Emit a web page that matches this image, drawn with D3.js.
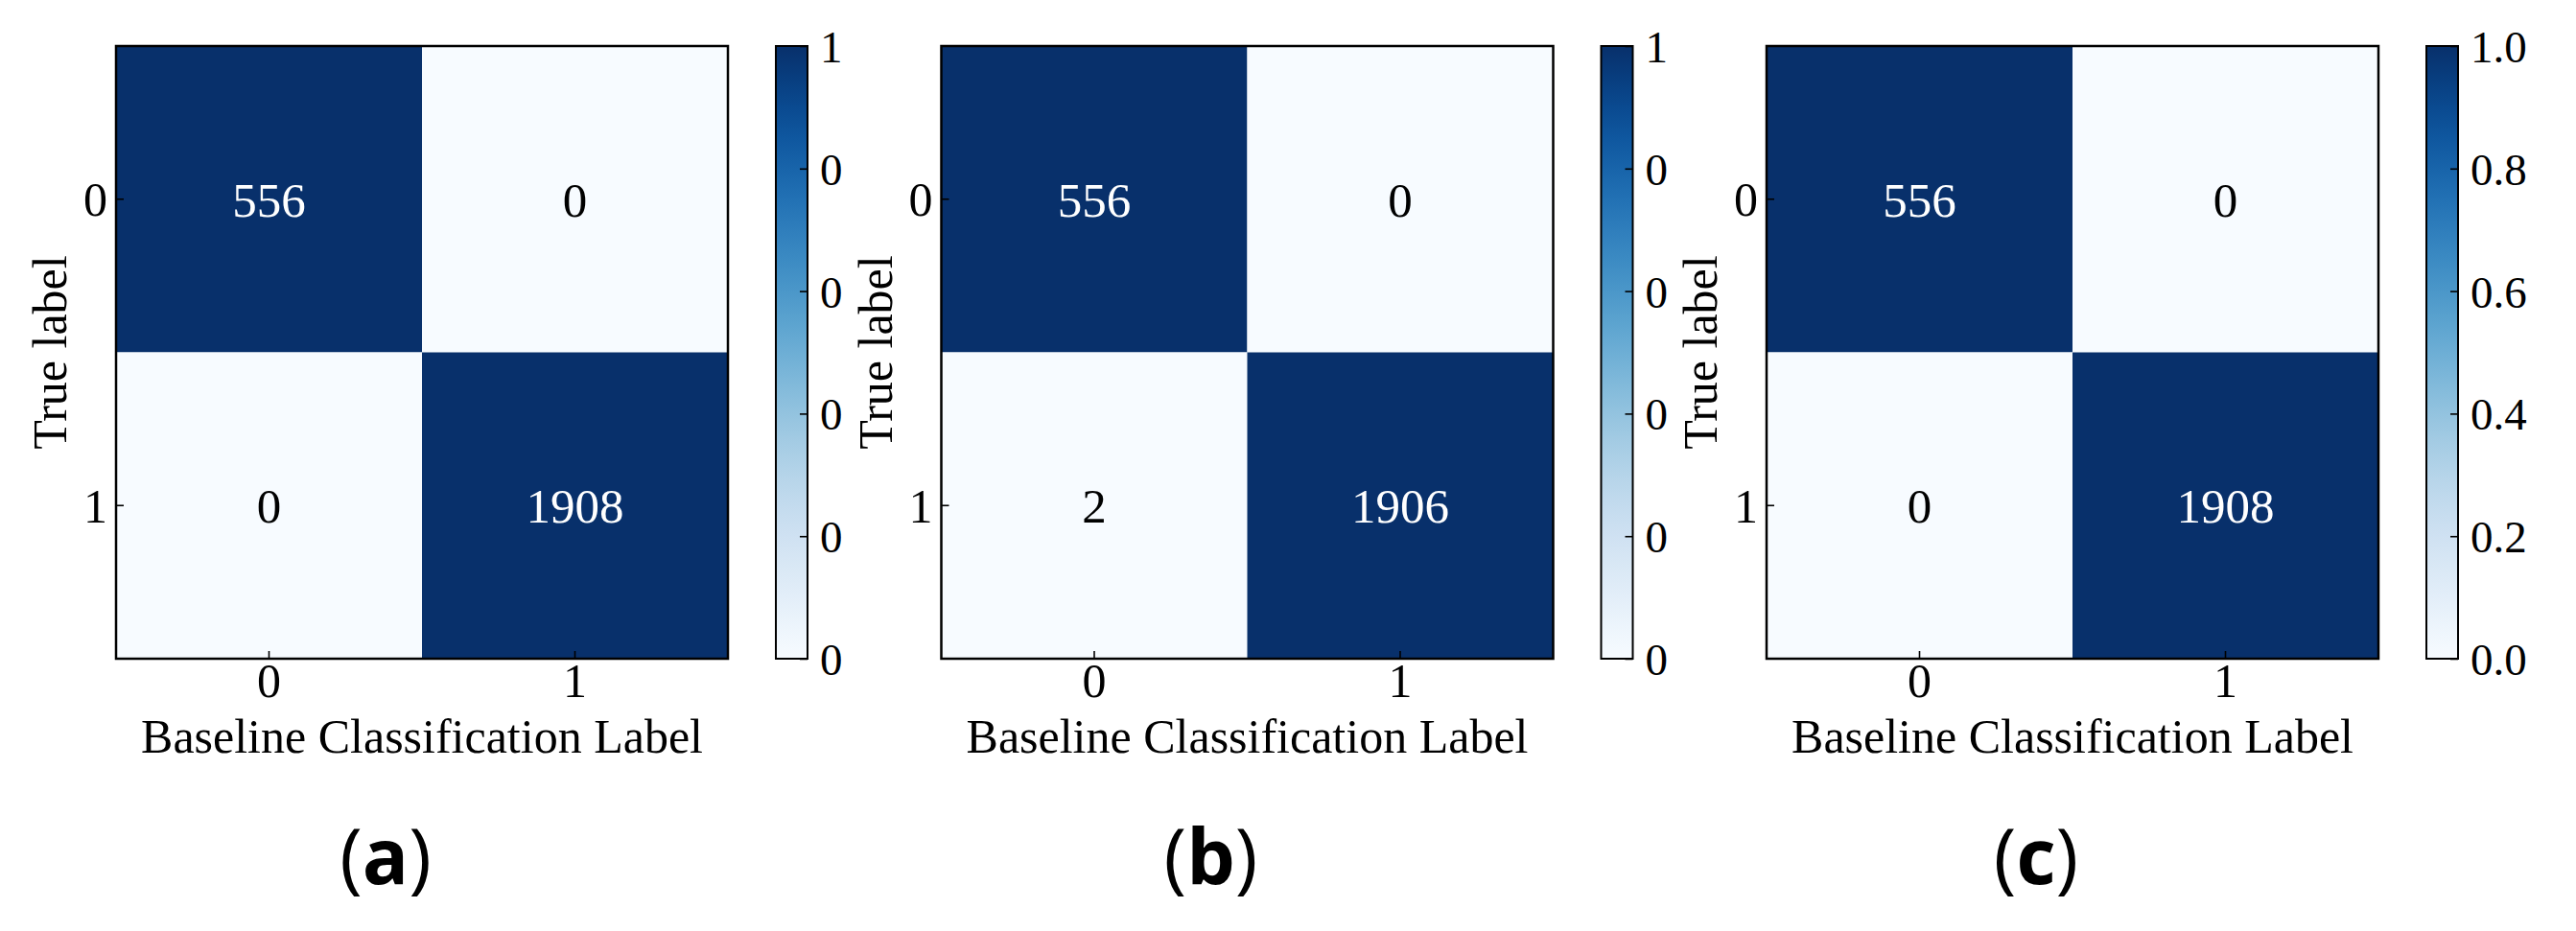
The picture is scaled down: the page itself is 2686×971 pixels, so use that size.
<!DOCTYPE html>
<html>
<head>
<meta charset="utf-8">
<script src="https://cdn.jsdelivr.net/npm/d3@7"></script>
<style>
  html, body { margin: 0; padding: 0; background: #ffffff; }
  svg { display: block; }
</style>
</head>
<body>
<script>
// ---- data ----
const classes = ["0", "1"];
const matrixA = [[556, 0], [0, 1908]];
const matrixB = [[556, 0], [2, 1906]];
const matrixC = [[556, 0], [0, 1908]];
const panelTags = ["a", "b", "c"];
const cbTickValues = [0, 0.2, 0.4, 0.6, 0.8, 1.0];
const cbLabelsAB = ["0", "0", "0", "0", "0", "1"];
const cbLabelsC = ["0.0", "0.2", "0.4", "0.6", "0.8", "1.0"];
const xLabelText = "Baseline Classification Label";
const yLabelText = "True label";

const matrices = [matrixA, matrixB, matrixC];
const cbLabelSets = [cbLabelsAB, cbLabelsAB, cbLabelsC];

// ---- layout ----
const W = 2686, H = 971;
const panelLeft = [121, 981.5, 1842];
const plotTop = 48, plotW = 638, plotH = 639;
const cbOffset = 688, cbW = 33;
const serif = "'Liberation Serif', 'Times New Roman', serif";

const svg = d3.select("body").append("svg")
  .attr("width", W).attr("height", H)
  .attr("viewBox", `0 0 ${W} ${H}`);

// gradient for colorbar
const defs = svg.append("defs");
const grad = defs.append("linearGradient").attr("id", "bluesGrad")
  .attr("x1", 0).attr("y1", 1).attr("x2", 0).attr("y2", 0);
d3.range(0, 1.0001, 0.05).forEach(t => {
  grad.append("stop").attr("offset", t).attr("stop-color", d3.interpolateBlues(t));
});

matrices.forEach((m, i) => {
  const g = svg.append("g").attr("transform", `translate(${panelLeft[i]},${plotTop})`);
  const x = d3.scaleBand().domain(classes).range([0, plotW]);
  const y = d3.scaleBand().domain(classes).range([0, plotH]);
  const color = d3.scaleSequential(d3.interpolateBlues).domain([0, 1]);

  const cells = [];
  m.forEach((row, r) => {
    const s = d3.sum(row);
    row.forEach((v, c) => cells.push({ r: classes[r], c: classes[c], v, n: s ? v / s : 0 }));
  });

  g.selectAll("rect.cell").data(cells).join("rect")
    .attr("class", "cell")
    .attr("x", d => x(d.c)).attr("y", d => y(d.r))
    .attr("width", x.bandwidth()).attr("height", y.bandwidth())
    .attr("fill", d => color(d.n));

  g.selectAll("text.ann").data(cells).join("text")
    .attr("class", "ann")
    .attr("x", d => x(d.c) + x.bandwidth() / 2)
    .attr("y", d => y(d.r) + y.bandwidth() / 2)
    .attr("dy", "0.35em")
    .attr("text-anchor", "middle")
    .attr("font-family", serif).attr("font-size", 51)
    .attr("fill", d => d.n > 0.5 ? "#ffffff" : "#000000")
    .text(d => d.v);

  // x axis
  const xAxis = g.append("g").attr("transform", `translate(0,${plotH})`)
    .call(d3.axisBottom(x).tickSizeInner(-8).tickSizeOuter(0));
  xAxis.select(".domain").remove();
  xAxis.selectAll(".tick line").attr("stroke", "#000").attr("stroke-width", 1.6);
  xAxis.selectAll(".tick text").attr("y", 40).attr("dy", null)
    .attr("font-family", serif).attr("font-size", 50).attr("fill", "#000");

  // y axis
  const yAxis = g.append("g")
    .call(d3.axisLeft(y).tickSizeInner(-8).tickSizeOuter(0));
  yAxis.select(".domain").remove();
  yAxis.selectAll(".tick line").attr("stroke", "#000").attr("stroke-width", 1.6);
  yAxis.selectAll(".tick text").attr("x", -9).attr("dy", "0.35em")
    .attr("font-family", serif).attr("font-size", 50).attr("fill", "#000");

  // frame
  g.append("rect").attr("x", 0).attr("y", 0).attr("width", plotW).attr("height", plotH)
    .attr("fill", "none").attr("stroke", "#000").attr("stroke-width", 2.5);

  // axis labels
  g.append("text").attr("x", plotW / 2).attr("y", 737)
    .attr("text-anchor", "middle")
    .attr("font-family", serif).attr("font-size", 50).attr("fill", "#000")
    .text(xLabelText);
  g.append("text")
    .attr("transform", `translate(-52,${plotH / 2}) rotate(-90)`)
    .attr("text-anchor", "middle")
    .attr("font-family", serif).attr("font-size", 50).attr("fill", "#000")
    .text(yLabelText);

  // colorbar
  const cb = g.append("g").attr("transform", `translate(${cbOffset},0)`);
  cb.append("rect").attr("width", cbW).attr("height", plotH).attr("fill", "url(#bluesGrad)");
  const cbScale = d3.scaleLinear().domain([0, 1]).range([plotH, 0]);
  const labels = cbLabelSets[i];
  const cbAxis = cb.append("g").attr("transform", `translate(${cbW},0)`)
    .call(d3.axisRight(cbScale).tickValues(cbTickValues)
      .tickFormat((d, k) => labels[k]).tickSizeInner(-8).tickSizeOuter(0).tickPadding(14));
  cbAxis.select(".domain").remove();
  cbAxis.selectAll(".tick line").attr("stroke", "#000").attr("stroke-width", 1.6);
  cbAxis.selectAll(".tick text").attr("x", 13).attr("dy", "0.35em")
    .attr("font-family", serif).attr("font-size", 47).attr("fill", "#000");
  cb.append("rect").attr("width", cbW).attr("height", plotH)
    .attr("fill", "none").attr("stroke", "#000").attr("stroke-width", 2);

  // panel tag
  const tag = svg.append("text")
    .attr("x", panelLeft[i] + 281).attr("y", 922)
    .attr("text-anchor", "middle")
    .attr("font-family", "'Open Sans', sans-serif").attr("font-size", 80).attr("fill", "#000");
  tag.append("tspan").attr("font-weight", 400).text("(");
  tag.append("tspan").attr("font-weight", 700).text(panelTags[i]);
  tag.append("tspan").attr("font-weight", 400).text(")");
});
</script>
</body>
</html>
